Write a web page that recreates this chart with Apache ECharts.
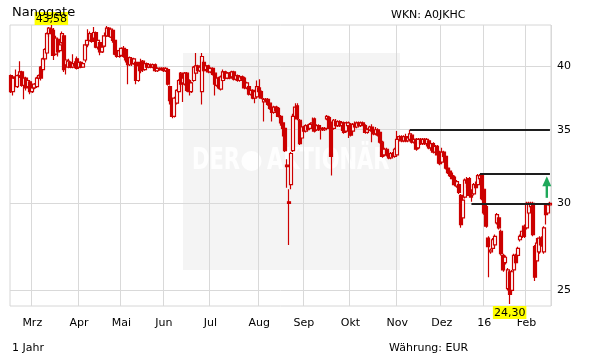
<!DOCTYPE html>
<html><head><meta charset="utf-8">
<script src="https://cdn.jsdelivr.net/npm/echarts@6/dist/echarts.min.js"></script>
<style>html,body{margin:0;padding:0;background:#fff}#c{width:611px;height:364px}</style>
</head><body><div id="c"></div>
<script>
// ---- data ----
const holidays = ['2015-04-03','2015-04-06','2015-05-01','2015-12-24','2015-12-25','2015-12-31','2016-01-01'];
const startDate = '2015-02-16', endDate = '2016-02-16';
const tickLabels = ['16','Feb','Mrz','Apr','Mai','Jun','Jul','Aug','Sep','Okt','Nov','Dez'];
const gridLevels = [25, 30, 35, 40];
const resistance = [ {from: 188, level: 35}, {from: 221, level: 31.9}, {from: 217, level: 30} ];
const arrowFrom = 30.35, arrowTo = 31.75;

const opens = [
39.2,37.9,39.0,38.3,39.2,39.5,38.4,39.0,38.3,38.7,
37.9,38.2,38.3,39.0,39.9,39.7,40.6,41.1,42.8,43.2,
43.1,41.0,42.3,41.3,42.0,42.6,40.1,39.9,40.3,39.9,
40.2,40.6,39.9,40.3,39.9,40.5,41.8,42.2,42.7,42.4,
42.9,41.6,42.0,41.2,41.7,42.6,43.3,42.5,43.1,42.2,
41.0,40.8,40.9,41.5,41.4,40.5,40.1,40.6,40.2,40.3,
38.8,40.3,40.4,39.7,40.2,39.9,40.1,39.9,40.1,39.6,
39.8,39.7,39.8,39.6,39.7,38.3,37.2,36.0,37.0,37.9,
39.4,38.6,38.5,39.4,38.8,37.9,38.8,39.4,40.0,39.6,
37.9,40.3,39.7,40.0,39.5,39.8,39.4,38.4,39.0,38.1,
38.8,39.5,39.0,39.4,39.1,39.5,38.9,39.2,38.8,39.1,
39.0,38.2,38.3,37.7,38.0,37.4,37.5,38.2,37.9,37.1,
37.2,37.3,37.0,36.6,36.3,36.7,36.6,36.0,35.5,35.1,
32.5,30.1,31.2,33.5,36.0,36.8,35.7,34.4,35.2,34.9,
35.3,35.1,35.4,35.8,35.0,35.3,35.0,35.1,35.0,35.8,
35.9,35.5,35.1,35.6,35.3,35.6,35.3,35.5,34.9,35.3,
35.4,34.9,35.4,35.2,35.5,35.3,35.5,35.3,34.8,35.0,
35.2,34.9,34.7,35.0,34.8,34.1,33.2,33.6,33.2,33.0,
33.3,33.1,33.2,34.3,34.5,34.2,34.5,34.2,34.3,34.6,
34.1,34.3,33.7,34.3,34.0,34.3,34.0,34.2,33.7,34.0,
33.4,33.8,33.4,32.7,33.4,33.1,32.3,32.1,31.8,31.7,
31.1,31.2,30.5,29.1,30.4,31.5,31.6,30.5,30.6,31.2,
31.2,31.6,31.8,30.9,29.8,27.9,27.1,27.3,27.5,28.8,
29.1,28.3,26.9,26.5,25.1,26.0,25.0,26.1,26.9,26.9,
27.8,28.0,28.6,28.5,29.4,29.8,30.0,27.4,26.6,27.1,
27.9,27.1,29.9,29.4,29.9];
const closes = [
37.9,39.0,39.1,39.2,39.5,38.4,39.0,38.2,38.8,37.9,
38.2,38.5,39.0,39.2,39.0,40.6,41.4,42.8,43.3,42.9,
40.9,42.4,41.2,41.8,42.8,39.7,40.5,40.4,39.9,40.2,
40.0,39.8,40.3,39.9,40.2,41.8,42.2,42.8,42.1,42.9,
41.6,42.2,41.2,41.6,42.6,43.3,42.6,43.2,42.2,41.0,
40.8,41.3,41.5,40.8,40.5,40.1,40.7,40.2,40.6,38.8,
40.0,39.6,39.7,40.2,39.9,40.1,39.9,40.1,39.6,39.8,
39.7,39.8,39.6,39.8,38.5,37.2,36.0,37.4,38.0,38.8,
38.5,39.0,39.4,38.0,37.9,38.6,39.9,40.0,39.6,39.9,
40.8,39.6,40.0,39.5,39.8,39.3,38.5,39.0,38.2,39.1,
39.5,39.0,39.4,39.0,39.5,38.9,39.2,38.8,39.1,38.9,
38.2,38.6,37.7,38.0,37.4,37.9,38.3,37.9,37.4,37.3,
37.3,36.9,36.6,36.3,36.7,36.4,36.0,35.5,35.1,33.5,
32.4,30.0,33.3,36.0,36.7,35.8,34.0,35.2,34.9,35.3,
35.0,35.4,35.5,34.9,35.3,35.0,35.1,35.0,35.1,36.0,
35.1,33.1,35.7,35.3,35.6,35.3,35.5,34.8,35.5,35.5,
34.6,35.4,35.2,35.5,35.3,35.5,35.4,34.8,35.0,35.2,
34.9,34.7,35.0,34.6,34.1,33.1,33.6,33.2,33.0,33.3,
33.1,33.6,34.3,34.5,34.2,34.5,34.2,34.4,34.7,34.1,
34.3,33.6,34.3,34.0,34.3,34.0,34.3,33.7,34.0,33.4,
33.8,33.2,32.6,33.4,33.1,32.3,32.0,31.8,31.6,31.2,
31.4,30.7,28.7,30.2,31.5,31.3,30.5,30.4,31.2,31.0,
31.8,31.8,30.3,29.4,28.6,27.4,27.2,27.8,28.0,29.3,
28.5,27.0,26.1,26.8,26.1,24.8,26.0,26.9,26.5,27.3,
28.0,28.3,28.0,30.0,30.0,30.0,28.1,25.7,27.6,27.9,
27.5,28.5,29.3,29.9,30.0];
const lows = [
37.8,37.6,38.9,38.2,39.0,38.3,37.3,38.0,38.2,37.7,
37.8,38.1,38.2,38.9,38.8,39.5,40.4,41.0,42.5,42.7,
40.5,40.9,40.8,41.2,41.9,39.5,39.3,39.8,39.8,39.8,
39.8,39.7,39.8,39.8,39.9,40.3,41.6,42.1,42.0,42.2,
41.5,41.4,40.9,41.1,41.6,42.5,42.5,42.4,42.0,40.9,
40.7,40.7,40.8,40.7,40.3,38.5,40.0,40.0,40.1,38.5,
38.7,39.4,39.5,39.6,39.8,39.8,39.8,39.8,39.5,39.5,
39.6,39.6,39.5,39.5,38.4,36.9,35.85,35.9,36.9,37.8,
38.3,37.1,38.4,37.9,37.6,37.8,38.7,39.3,39.4,39.5,
36.9,39.5,39.6,39.4,39.4,39.2,37.6,38.3,38.1,38.0,
38.7,38.9,38.9,38.9,39.0,38.8,38.8,38.7,38.7,38.8,
38.1,38.1,37.6,37.6,37.3,37.0,37.4,37.8,37.3,35.6,
37.1,36.8,36.5,35.6,36.2,36.2,35.9,35.3,34.5,33.4,
31.0,27.5,30.9,33.4,35.9,35.7,33.9,34.3,34.8,34.8,
34.9,35.0,35.2,34.8,34.9,34.9,34.3,34.9,34.9,35.7,
35.0,31.8,35.0,35.2,35.2,35.2,34.9,34.7,34.8,34.4,
34.5,34.8,35.1,35.1,35.2,35.2,35.3,34.7,34.7,34.9,
34.1,34.6,34.6,34.5,34.0,33.0,33.1,33.1,32.9,32.9,
33.0,33.0,33.1,34.2,34.1,34.1,34.1,34.1,34.2,34.0,
34.0,33.5,33.6,33.9,33.9,33.9,33.8,33.6,33.5,33.3,
33.3,32.6,32.5,32.6,33.0,32.2,31.9,31.7,31.5,31.1,
31.0,30.6,28.5,29.0,30.3,31.0,30.4,30.1,30.5,30.9,
31.1,31.5,30.2,29.3,28.5,25.7,27.0,27.2,27.4,28.7,
28.4,26.9,26.0,26.4,25.0,24.3,24.9,26.0,26.4,26.8,
27.7,27.9,27.9,28.4,29.3,29.7,28.0,25.5,26.5,27.0,
27.4,27.0,28.7,29.3,29.8];
const highs = [
39.3,39.1,39.7,39.3,40.4,39.6,39.2,39.1,38.9,38.8,
38.4,38.6,39.1,39.3,40.0,40.7,41.5,42.9,43.4,43.58,
43.3,42.6,42.4,42.0,43.0,42.7,40.6,40.6,40.4,41.0,
40.4,40.8,40.4,40.4,40.3,41.9,43.2,43.0,42.8,43.4,
43.0,42.3,42.1,41.8,42.9,43.5,43.4,43.3,43.2,42.3,
41.4,41.4,41.6,41.7,41.5,40.7,40.8,40.7,40.7,40.4,
40.2,40.6,40.5,40.3,40.3,40.2,40.2,40.2,40.2,39.9,
39.9,39.9,39.9,39.9,39.8,38.4,37.4,37.5,38.1,38.9,
39.5,39.2,39.5,39.5,38.9,38.7,40.0,41.1,40.1,40.0,
41.1,40.5,40.1,40.1,39.9,39.9,39.5,39.1,39.1,39.2,
39.7,39.6,39.5,39.5,39.6,39.6,39.3,39.3,39.2,39.2,
39.1,38.7,38.4,38.1,38.1,38.0,38.8,38.9,38.0,37.4,
37.4,37.4,37.1,36.7,36.8,36.8,36.7,36.1,35.6,35.2,
32.9,30.9,33.4,36.2,37.0,37.0,35.8,35.6,35.3,35.4,
35.4,35.5,35.9,35.9,35.4,35.4,35.2,35.2,35.2,36.1,
36.0,35.6,35.8,35.8,35.7,35.7,35.6,35.6,35.6,35.6,
35.5,35.5,35.6,35.6,35.6,35.6,35.6,35.4,35.1,35.3,
35.4,35.1,35.2,35.1,34.9,34.2,33.7,33.7,33.5,33.4,
33.4,33.7,34.9,34.6,34.6,34.6,34.7,34.5,35.0,34.7,
34.4,34.4,34.4,34.4,34.4,34.4,34.4,34.3,34.1,34.1,
33.9,33.9,33.5,33.7,33.5,33.2,32.5,32.3,32.0,31.8,
31.5,31.3,30.6,30.4,31.6,31.7,31.7,30.9,31.3,31.4,
31.9,31.9,31.9,31.0,30.0,28.0,27.3,27.9,28.1,29.4,
29.2,28.4,27.0,26.9,26.2,26.1,26.1,27.0,27.0,27.4,
28.1,28.4,28.7,30.1,30.1,30.1,30.1,27.5,27.9,28.0,
28.0,28.6,30.0,30.0,30.1];

// ---- trading-day categories ----
const dates = [];
for (let d = new Date(startDate + 'T00:00:00Z'); d <= new Date(endDate + 'T00:00:00Z'); d.setUTCDate(d.getUTCDate() + 1)) {
  const wd = d.getUTCDay();
  const s = d.toISOString().slice(0, 10);
  if (wd === 0 || wd === 6 || holidays.indexOf(s) >= 0) continue;
  dates.push(s);
}
const isMonthStart = i => i > 0 && dates[i].slice(5, 7) !== dates[i - 1].slice(5, 7);
const ohlc = dates.map((d, i) => [opens[i], closes[i], lows[i], highs[i]]);
const fmt = v => Number(v).toFixed(2).replace('.', ',');
const FONT = '"DejaVu Sans", Verdana, sans-serif';
const RED = '#cc0000';
const N = dates.length;

const chart = echarts.init(document.getElementById('c'));
chart.setOption({
  animation: false,
  grid: { left: 10, right: 60, top: 25, bottom: 58, show: true, borderColor: '#d6d6d6', borderWidth: 1 },
  xAxis: {
    type: 'category', data: dates, boundaryGap: true,
    axisLine: { show: false }, axisTick: { show: false },
    axisLabel: { interval: (i) => isMonthStart(i), formatter: v => tickLabels[+v.slice(5, 7) - 1],
      color: '#000', fontSize: 11, fontFamily: FONT, margin: 12 },
    splitLine: { show: true, interval: (i) => isMonthStart(i), lineStyle: { color: '#d9d9d9', width: 1 } }
  },
  yAxis: {
    type: 'log', logBase: 10, min: 24.2, max: 43.58, position: 'right',
    axisLine: { show: false }, axisTick: { show: false }, axisLabel: { show: false }, splitLine: { show: false }
  },
  series: [
    {
      type: 'line', data: [], silent: true,
      markLine: {
        silent: true, z: 1, symbol: ['none', 'none'],
        lineStyle: { color: '#d9d9d9', width: 1, type: 'solid' },
        label: { position: 'end', distance: 6, formatter: p => String(p.value), color: '#000', fontSize: 11, fontFamily: FONT },
        emphasis: { disabled: true },
        data: gridLevels.map(v => ({ yAxis: v }))
      }
    },
    {
      type: 'candlestick', data: ohlc, barWidth: 3.5, z: 3,
      itemStyle: { color: '#ffffff', color0: RED, borderColor: RED, borderColor0: RED, borderColorDoji: RED, borderWidth: 1.2 },
      markPoint: {
        symbol: 'rect', symbolSize: 0, z: 6, silent: true,
        label: { show: true, formatter: p => fmt(p.value), backgroundColor: '#ffff00', color: '#000',
          fontSize: 11, fontFamily: FONT, padding: [1, 1, 0, 1], lineHeight: 12 },
        data: [
          { type: 'max', valueDim: 'highest', label: { position: 'top', distance: 0 } },
          { type: 'min', valueDim: 'lowest', label: { position: 'bottom', distance: 2 } }
        ]
      },
      markLine: {
        silent: true, z: 5, symbol: ['none', 'none'],
        lineStyle: { color: '#1e1e1e', width: 2, type: 'solid' },
        label: { show: false }, emphasis: { disabled: true },
        data: resistance.map(r => [{ coord: [r.from, r.level] }, { coord: [N - 1, r.level] }])
      }
    }
  ],
  graphic: [
    { type: 'rect', z: -1, silent: true, shape: { x: 183, y: 53, width: 217, height: 217 }, style: { fill: 'rgba(0,0,0,0.045)' } },
    { type: 'text', z: -1, silent: true, x: 192, y: 161, scaleX: 0.7, style: { text: 'DER', font: 'bold 30px "DejaVu Sans"', fill: 'rgba(255,255,255,0.9)', verticalAlign: 'middle' } },
    { type: 'circle', z: -1, silent: true, shape: { cx: 251.5, cy: 161, r: 10 }, style: { fill: 'rgba(255,255,255,0.9)' } },
    { type: 'text', z: -1, silent: true, x: 267, y: 161, scaleX: 0.7, style: { text: 'AKTIONÄR', font: 'bold 30px "DejaVu Sans"', fill: 'rgba(255,255,255,0.9)', verticalAlign: 'middle' } },
    { type: 'text', z: 10, silent: true, x: 12, y: 13, style: { text: 'Nanogate', font: '13px "DejaVu Sans"', fill: '#000', verticalAlign: 'middle' } },
    { type: 'text', z: 10, silent: true, x: 391, y: 15, style: { text: 'WKN: A0JKHC', font: '11px "DejaVu Sans"', fill: '#000', verticalAlign: 'middle' } },
    { type: 'text', z: 10, silent: true, x: 12, y: 348, style: { text: '1 Jahr', font: '11px "DejaVu Sans"', fill: '#000', verticalAlign: 'middle' } },
    { type: 'text', z: 10, silent: true, x: 389, y: 348, style: { text: 'Währung: EUR', font: '11px "DejaVu Sans"', fill: '#000', verticalAlign: 'middle' } }
  ]
});

// green arrow anchored to the data coordinates near the last candle
const tip = chart.convertToPixel({ xAxisIndex: 0, yAxisIndex: 0 }, [N - 2, arrowTo]);
const base = chart.convertToPixel({ xAxisIndex: 0, yAxisIndex: 0 }, [N - 2, arrowFrom]);
const ax = tip[0] - 1;
chart.setOption({
  graphic: [
    { id: 'arrowHead', type: 'polygon', z: 8, silent: true, shape: { points: [[ax, tip[1]], [ax - 4.5, tip[1] + 10], [ax + 4.5, tip[1] + 10]] }, style: { fill: '#1fa85a' } },
    { id: 'arrowShaft', type: 'rect', z: 8, silent: true, shape: { x: ax - 1.2, y: tip[1] + 9, width: 2.4, height: base[1] - tip[1] - 9 }, style: { fill: '#1fa85a' } }
  ]
});
</script>
</body></html>
